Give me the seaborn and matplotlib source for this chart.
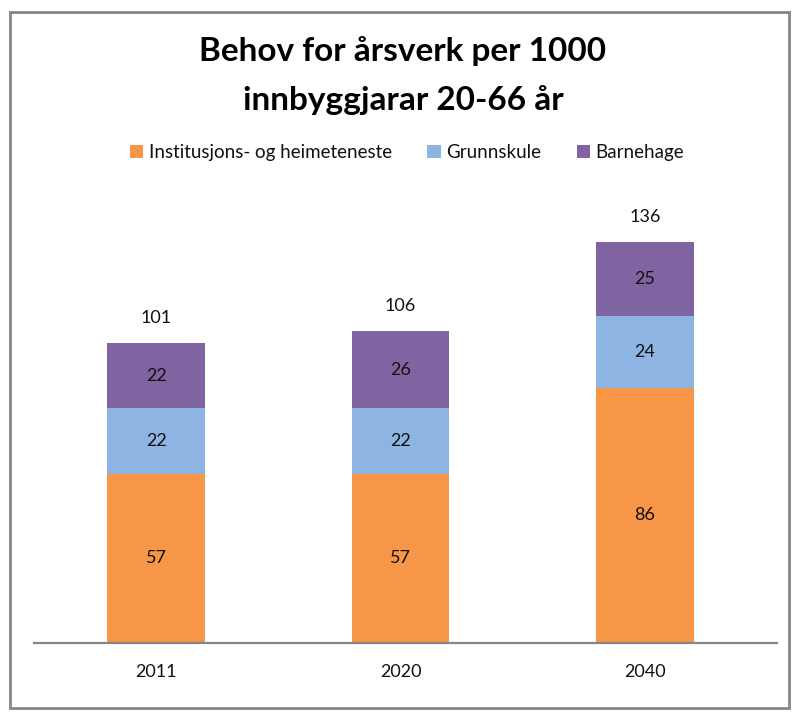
import pandas as pd
import seaborn as sns
import matplotlib.pyplot as plt
from matplotlib.patches import Patch, Rectangle

years = ['2011', '2020', '2040']
institusjon = [57, 57, 86]
grunnskule = [22, 22, 24]
barnehage = [22, 26, 25]
totals = [101, 106, 136]

series = ['Institusjons- og heimeteneste', 'Grunnskule', 'Barnehage']
colors = ['#F79646', '#8DB4E2', '#8064A2']

sns.set_theme(style='white')
plt.rcParams['font.family'] = ['Lato', 'DejaVu Sans']
plt.rcParams['text.color'] = '#111111'

df = pd.DataFrame({'year': years, series[0]: institusjon,
                   series[1]: grunnskule, series[2]: barnehage})

fig = plt.figure(figsize=(8.06, 7.2), dpi=100)
ax = fig.add_axes([0.0422, 0.107, 0.9218, 0.660])

bottom = [0] * len(years)
for name, col in zip(series, colors):
    sns.barplot(data=df, x='year', y=name, color=col, bottom=bottom,
                width=0.4, ax=ax, saturation=1, linewidth=0)
    for i, v in enumerate(df[name]):
        ax.text(i, bottom[i] + v / 2, str(v), ha='center', va='center',
                fontsize=13, color='#111111')
    bottom = [b + v for b, v in zip(bottom, df[name])]

# totals above the bars
for i, t in enumerate(totals):
    ax.text(i, bottom[i] + 8.5, str(t), ha='center', va='center',
            fontsize=13, color='#111111')

ax.set_ylim(0, 160)
ax.set_xlim(-0.5, 2.54)
ax.set_xlabel('')
ax.set_ylabel('')
ax.set_yticks([])
ax.tick_params(axis='x', length=0, labelsize=13, pad=15, colors='#111111')
for s in ['top', 'right', 'left']:
    ax.spines[s].set_visible(False)
ax.spines['bottom'].set_color('#868686')
ax.spines['bottom'].set_linewidth(1.6)

fig.text(0.5, 0.895, 'Behov for årsverk per 1000\ninnbyggjarar 20-66 år',
         ha='center', va='center', fontsize=24, fontweight='bold',
         linespacing=1.75, color='black')

handles = [Patch(facecolor=c, edgecolor='none') for c in colors]
fig.legend(handles, series, loc='center', bbox_to_anchor=(0.505, 0.788),
           ncol=3, frameon=False, fontsize=13.5, handlelength=0.7,
           handleheight=0.7, handletextpad=0.3, columnspacing=1.9)

# outer frame
fig.patches.append(Rectangle((0.013, 0.017), 0.966, 0.966, transform=fig.transFigure,
                             fill=False, edgecolor='#868686', linewidth=2))

fig.savefig('out.png', dpi=100)
